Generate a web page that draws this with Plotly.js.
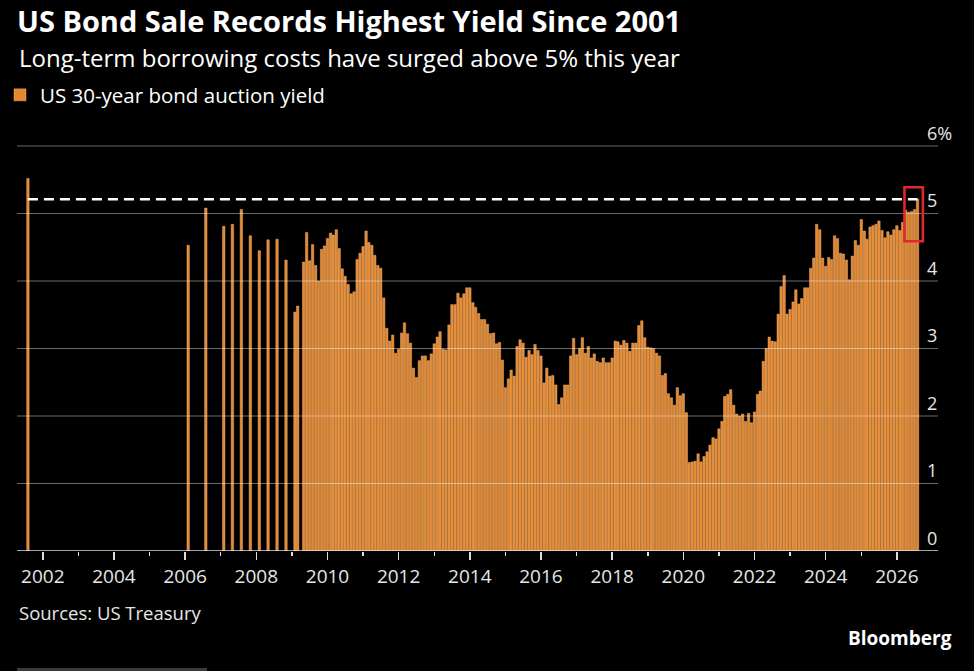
<!DOCTYPE html>
<html>
<head>
<meta charset="utf-8">
<script src="https://cdn.plot.ly/plotly-3.0.1.min.js"></script>
<style>
  html, body { margin: 0; padding: 0; background: #000; }
  #chart { width: 974px; height: 671px; }
</style>
</head>
<body>
<div id="chart"></div>
<script>
// auctions before the monthly calendar came back in 2009
var earlyMonths = ['2001-08', '2006-02', '2006-08', '2007-02', '2007-05', '2007-08', '2007-11',
                   '2008-02', '2008-05', '2008-08', '2008-11', '2009-02', '2009-03'];
var earlyYields = [5.52, 4.53, 5.08, 4.81, 4.84, 5.06, 4.67, 4.45, 4.61, 4.62, 4.31, 3.54, 3.63];

// monthly auctions, May 2009 onwards
var yields2009 = [4.28, 4.72, 4.30, 4.54, 4.23, 4.00, 4.47, 4.52];   // May - Dec
var yields2010 = [4.63, 4.71, 4.68, 4.76, 4.48, 4.18, 4.07, 3.95, 3.81, 3.84, 4.32, 4.41];
var yields2011 = [4.51, 4.74, 4.57, 4.53, 4.38, 4.23, 4.19, 3.75, 3.30, 3.11, 3.20, 2.93];
var yields2012 = [2.99, 3.23, 3.38, 3.22, 3.08, 2.71, 2.57, 2.82, 2.89, 2.89, 2.82, 2.92];
var yields2013 = [3.07, 3.17, 3.25, 2.99, 2.98, 3.35, 3.65, 3.65, 3.82, 3.75, 3.81, 3.90];
var yields2014 = [3.90, 3.68, 3.61, 3.52, 3.43, 3.43, 3.36, 3.22, 3.23, 3.07, 3.09, 2.83];
var yields2015 = [2.42, 2.55, 2.68, 2.59, 3.03, 3.13, 3.08, 2.87, 2.97, 2.91, 3.06, 2.97];
var yields2016 = [2.89, 2.49, 2.71, 2.59, 2.60, 2.46, 2.17, 2.27, 2.46, 2.46, 2.89, 3.15];
var yields2017 = [2.91, 3.00, 3.16, 2.93, 3.03, 2.86, 2.92, 2.81, 2.79, 2.86, 2.79, 2.79];
var yields2018 = [2.86, 3.11, 3.10, 3.05, 3.12, 3.08, 2.96, 3.08, 3.08, 3.34, 3.41, 3.16];
var yields2019 = [3.02, 3.01, 3.00, 2.93, 2.89, 2.60, 2.63, 2.33, 2.27, 2.16, 2.42, 2.30];
var yields2020 = [2.33, 2.05, 1.31, 1.32, 1.33, 1.44, 1.32, 1.40, 1.47, 1.57, 1.68, 1.66];
var yields2021 = [1.81, 1.92, 2.29, 2.32, 2.39, 2.16, 2.03, 2.00, 2.03, 1.92, 2.04, 1.90];
var yields2022 = [2.06, 2.32, 2.37, 2.81, 3.00, 3.17, 3.11, 3.10, 3.51, 3.92, 4.08, 3.51];
var yields2023 = [3.58, 3.69, 3.87, 3.66, 3.74, 3.90, 3.90, 4.19, 4.34, 4.84, 4.76, 4.34];
var yields2024 = [4.22, 4.35, 4.32, 4.67, 4.63, 4.41, 4.40, 4.31, 4.02, 4.37, 4.60, 4.53];
var yields2025 = [4.91, 4.74, 4.62, 4.80, 4.82, 4.84, 4.89, 4.75, 4.64, 4.73, 4.68, 4.76];
var yields2026 = [4.82, 4.75, 4.87, 5.05, 5.02, 5.03, 5.06, 5.21];   // Jan - Aug

var monthlyYears = [2009, 2010, 2011, 2012, 2013, 2014, 2015, 2016, 2017, 2018,
                    2019, 2020, 2021, 2022, 2023, 2024, 2025, 2026];
var monthlyYields = [yields2009, yields2010, yields2011, yields2012, yields2013, yields2014,
                     yields2015, yields2016, yields2017, yields2018, yields2019, yields2020,
                     yields2021, yields2022, yields2023, yields2024, yields2025, yields2026];

var yTickVals = [0, 1, 2, 3, 4, 5, 6];
var yTickText = ['0', '1', '2', '3', '4', '5', '6%'];

var seriesName = 'US 30-year bond auction yield';

// put everything on one date axis
var dates = [];
var yields = [];
for (var i = 0; i < earlyMonths.length; i++) {
  dates.push(earlyMonths[i] + '-01');
  yields.push(earlyYields[i]);
}
for (var j = 0; j < monthlyYears.length; j++) {
  var vals = monthlyYields[j];
  var startMonth = 12 - vals.length + 1;
  if (monthlyYears[j] == 2026) startMonth = 1;
  for (var m = 0; m < vals.length; m++) {
    var mm = startMonth + m;
    dates.push(monthlyYears[j] + '-' + (mm < 10 ? '0' + mm : mm) + '-01');
    yields.push(vals[m]);
  }
}

var n = dates.length;
var lastYield = yields[n - 1];
var dayMs = 24 * 3600 * 1000;

var bars = {
  x: dates,
  y: yields,
  type: 'bar',
  name: seriesName,
  width: 25 * dayMs,
  marker: {
    color: '#E5882F',
    line: { color: '#F4B878', width: 0.45 }
  },
  hoverinfo: 'x+y'
};

// dashed level of the latest sale, back to 2001
var level = {
  x: [dates[0], dates[n - 1]],
  y: [lastYield, lastYield],
  type: 'scatter',
  mode: 'lines',
  showlegend: false,
  hoverinfo: 'skip',
  line: { color: '#ffffff', width: 2.6, dash: '10px,6px' }
};

// plot area: x 17..926, y 119..551 on the page; grid runs on to x=938
var plotW = 909;
var plotH = 432;
var gridEnd = (938 - 17) / plotW;
function pageY(py) { return (551 - py) / plotH; }

var shapes = [];
for (var g = 1; g < yTickVals.length; g++) {
  shapes.push({
    type: 'line', xref: 'paper', yref: 'y',
    x0: 0, x1: gridEnd, y0: yTickVals[g], y1: yTickVals[g],
    line: { color: 'rgba(255,255,255,0.42)', width: 1 },
    layer: 'above'
  });
}
// base line
shapes.push({
  type: 'line', xref: 'paper', yref: 'y',
  x0: 0, x1: gridEnd, y0: yTickVals[0], y1: yTickVals[0],
  line: { color: '#dddddd', width: 1.6 },
  layer: 'above'
});

// red box round the last few sales
var recent = yields.slice(n - 5);
var boxStart = new Date(new Date(dates[n - 5]).getTime() - 12 * dayMs);
var boxEnd = new Date(new Date(dates[n - 1]).getTime() + 55 * dayMs);
shapes.push({
  type: 'rect', xref: 'x', yref: 'y',
  x0: boxStart.toISOString().slice(0, 10), x1: boxEnd.toISOString().slice(0, 10),
  y0: Math.min.apply(null, recent) - 0.43, y1: Math.max.apply(null, recent) + 0.18,
  line: { color: '#E3262D', width: 2.6 },
  layer: 'above'
});

// the grey strip at the very bottom
shapes.push({
  type: 'rect', xref: 'paper', yref: 'paper',
  x0: 0, x1: 190 / plotW, y0: pageY(671), y1: pageY(668),
  line: { width: 0 }, fillcolor: '#3a3a3a'
});

var textFont = 'Open Sans, sans-serif';

var layout = {
  width: 974,
  height: 671,
  paper_bgcolor: '#000000',
  plot_bgcolor: '#000000',
  margin: { l: 17, r: 48, t: 119, b: 120, autoexpand: false },
  font: { family: textFont, color: '#e6e6e6' },
  title: {
    text: 'US Bond Sale Records Highest Yield Since 2001',
    font: { family: textFont, size: 29, color: '#ffffff', weight: 'bold' },
    xref: 'container', yref: 'container',
    x: 17 / 974, xanchor: 'left',
    y: 1 - 21.5 / 671, yanchor: 'middle'
  },
  showlegend: true,
  legend: {
    x: -17 / plotW, xanchor: 'left',
    y: pageY(95), yanchor: 'middle',
    orientation: 'h',
    bgcolor: 'rgba(0,0,0,0)',
    font: { family: textFont, size: 20.5, color: '#ffffff' }
  },
  bargap: 0,
  xaxis: {
    type: 'date',
    range: ['2001-04-11', '2026-10-27'],
    showgrid: false,
    zeroline: false,
    showline: false,
    ticks: 'outside',
    ticklen: 8,
    tickwidth: 1.5,
    tickcolor: '#dddddd',
    tick0: '2002-01-01',
    dtick: 'M24',
    tickformat: '%Y',
    tickfont: { family: textFont, size: 19, color: '#e6e6e6' },
    minor: { dtick: 'M12', ticks: 'outside', ticklen: 4, tickwidth: 1.5, tickcolor: '#dddddd' },
    fixedrange: true
  },
  yaxis: {
    side: 'right',
    range: [0, 6.4],
    showgrid: false,
    zeroline: false,
    showline: false,
    tickmode: 'array',
    tickvals: yTickVals,
    ticktext: yTickText,
    ticklabelposition: 'outside top',
    tickfont: { family: textFont, size: 18, color: '#e6e6e6' },
    fixedrange: true
  },
  shapes: shapes,
  annotations: [
    {
      text: 'Long-term borrowing costs have surged above 5% this year',
      xref: 'paper', yref: 'paper',
      x: 0, y: pageY(57.5),
      xanchor: 'left', yanchor: 'middle',
      showarrow: false,
      font: { family: textFont, size: 24, color: '#ffffff' }
    },
    {
      text: 'Sources: US Treasury',
      xref: 'paper', yref: 'paper',
      x: 0, y: pageY(612),
      xanchor: 'left', yanchor: 'middle',
      showarrow: false,
      font: { family: textFont, size: 18.5, color: '#e6e6e6' }
    },
    {
      text: '<b>Bloomberg</b>',
      xref: 'paper', yref: 'paper',
      x: (954 - 17) / plotW, y: pageY(638),
      xanchor: 'right', yanchor: 'middle',
      showarrow: false,
      font: { family: textFont, size: 19, color: '#ffffff' }
    }
  ]
};

Plotly.newPlot('chart', [bars, level], layout, { displayModeBar: false, staticPlot: true });
</script>
</body>
</html>
